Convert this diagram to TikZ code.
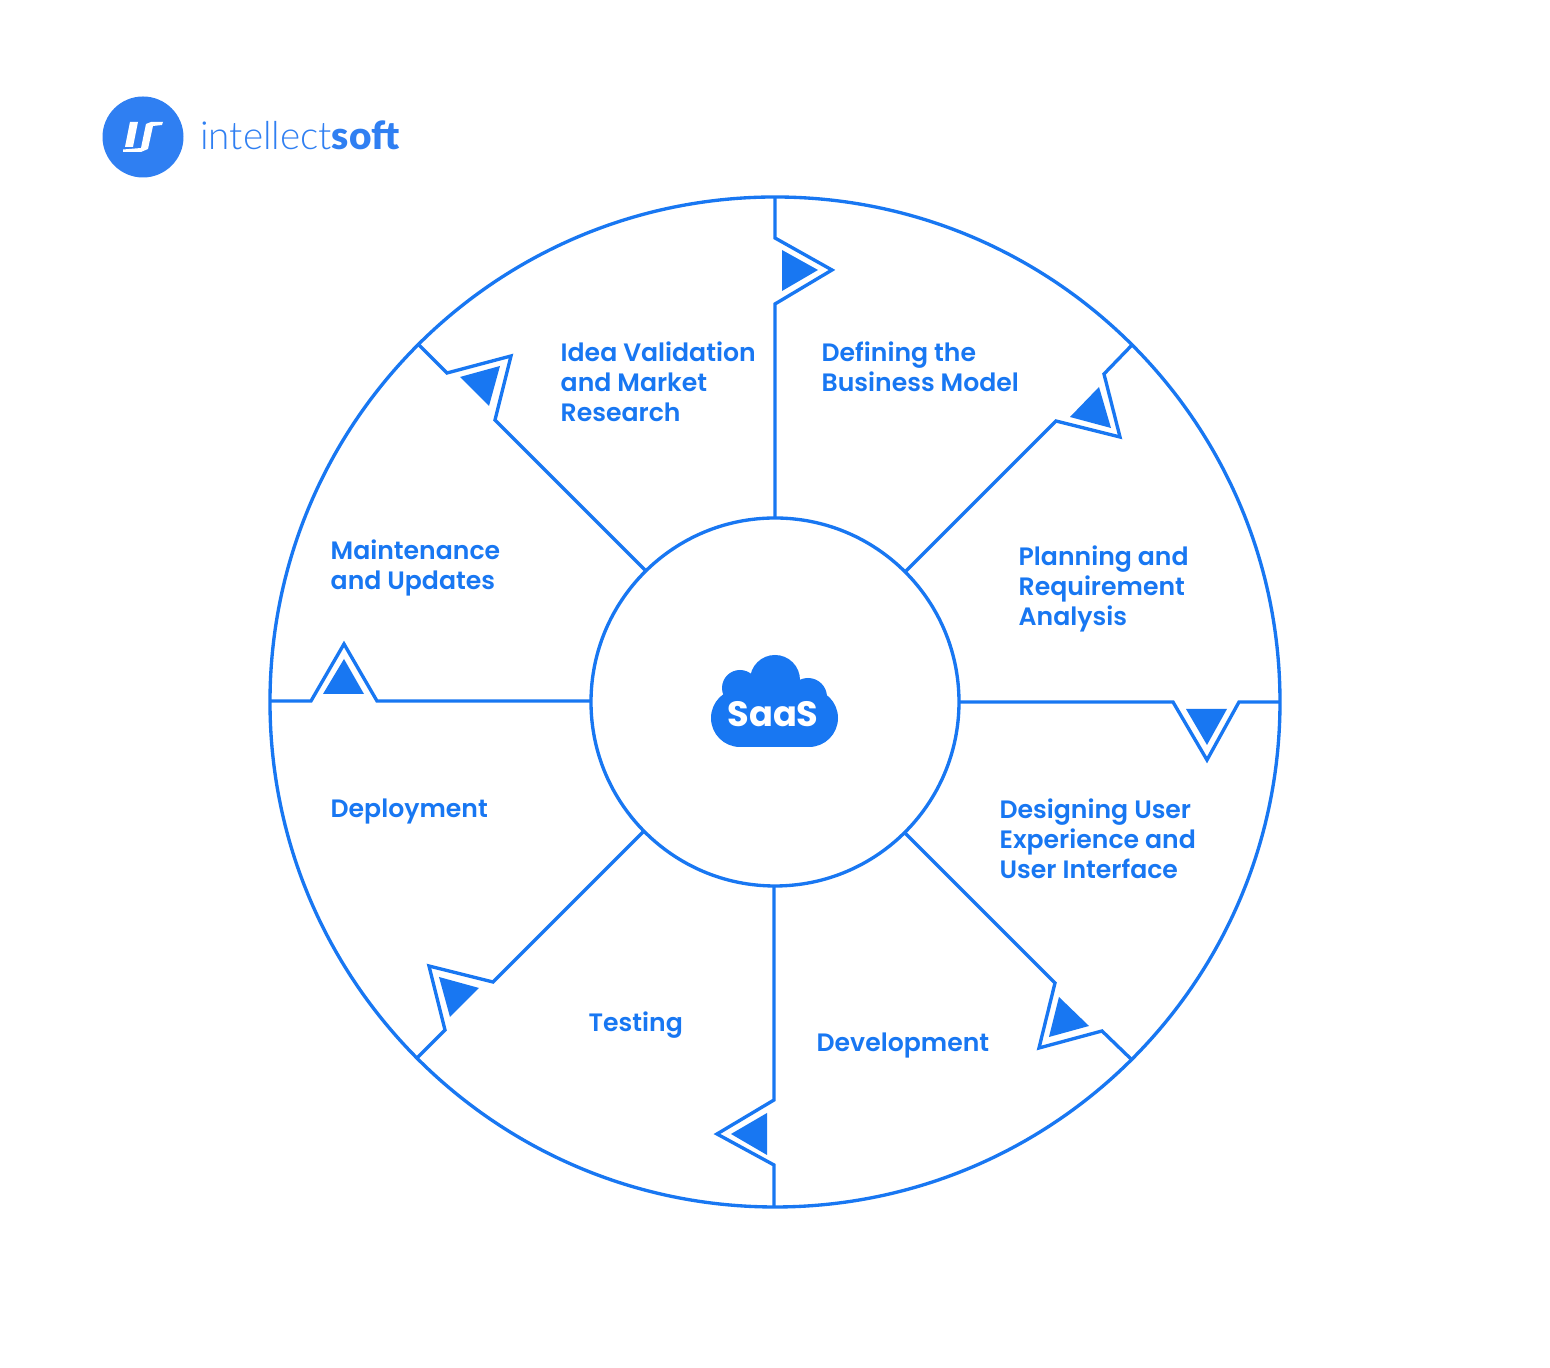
\documentclass[tikz,border=0pt]{standalone}
\usepackage{fontspec}
\usepackage{tikz}
\setmainfont{Poppins}[BoldFont={Poppins SemiBold}]
\newfontfamily\logolight{Lato Light}
\newfontfamily\logobold{Lato Black}
\newfontfamily\cloudfont{Poppins Bold}
\definecolor{sketchblue}{HTML}{1877F2}
\definecolor{logoblue}{HTML}{2F7FF2}
\tikzset{
  wheel/.style={line width=0.95pt, sketchblue, line join=miter},
  steplabel/.style={anchor=north west, inner sep=0pt, align=left, text=sketchblue,
    font=\fontsize{7.15pt}{8.5pt}\selectfont\bfseries},
}

\begin{document}
\begin{tikzpicture}[x=0.01cm, y=-0.01cm]
\useasboundingbox (0, 0) rectangle (1550, 1368);
\fill[white] (0, 0) rectangle (1550, 1368);

\draw[wheel] (775, 702) circle (505);
\draw[wheel] (775, 702) circle (184);

\draw[wheel] (775, 197) -- (775, 238) -- (832, 270) -- (775, 304) -- (775, 518);
\draw[wheel] (1132, 345) -- (1104, 374) -- (1120, 437) -- (1056, 421) -- (905, 572);
\draw[wheel] (1280, 702) -- (1239, 702) -- (1207, 760) -- (1173, 702) -- (959, 702);
\draw[wheel] (1131, 1059) -- (1102, 1031) -- (1039, 1048) -- (1055, 983) -- (904, 832);
\draw[wheel] (774, 1207) -- (774, 1165) -- (717, 1134) -- (774, 1100) -- (774, 886);
\draw[wheel] (417, 1058) -- (445, 1030) -- (429, 966) -- (493, 982) -- (644, 831);
\draw[wheel] (270, 701) -- (311, 701) -- (344, 644) -- (377, 701) -- (591, 701);
\draw[wheel] (418, 344) -- (447, 373) -- (511, 356) -- (495, 420) -- (645, 570);

\fill[sketchblue] (782, 250) -- (818, 270) -- (782, 291) -- cycle;
\fill[sketchblue] (1099, 387) -- (1111, 428) -- (1070, 417) -- cycle;
\fill[sketchblue] (1227, 709) -- (1207, 745) -- (1186, 709) -- cycle;
\fill[sketchblue] (1059, 997) -- (1089, 1026) -- (1049, 1037) -- cycle;
\fill[sketchblue] (767, 1155) -- (731, 1134) -- (767, 1113) -- cycle;
\fill[sketchblue] (450, 1017) -- (439, 977) -- (479, 988) -- cycle;
\fill[sketchblue] (323, 694) -- (344, 659) -- (364, 694) -- cycle;
\fill[sketchblue] (460, 377) -- (500, 366) -- (489, 406) -- cycle;

\node[steplabel] (idea) at (560, 341) {Idea Validation\\and Market\\Research};
\node[steplabel] (business) at (821, 341) {Defining the\\Business Model};
\node[steplabel] (planning) at (1018, 545) {Planning and\\Requirement\\Analysis};
\node[steplabel] (design) at (999, 798) {Designing User\\Experience and\\User Interface};
\node[steplabel] (development) at (816, 1032) {Development};
\node[steplabel] (testing) at (588, 1011) {Testing};
\node[steplabel] (deployment) at (330, 798) {Deployment};
\node[steplabel] (maintenance) at (330, 539) {Maintenance\\and Updates};

% cloud
\fill[sketchblue] (775, 680) circle (25);
\fill[sketchblue] (740, 688) circle (18);
\fill[sketchblue] (808, 697) circle (19);
\fill[sketchblue] (740, 718) circle (29);
\fill[sketchblue] (809, 718) circle (29);
\fill[sketchblue] (740, 690) rectangle (809, 747);
\node[inner sep=0pt, text=white, font=\fontsize{10pt}{12pt}\cloudfont] (saas) at (773, 714) {SaaS};

% logo
\fill[logoblue] (143, 137) circle (40.5);
\fill[white] (130, 122) -- (138, 122) -- (133, 147) -- (125, 147) -- cycle;
\fill[white] (163, 122) -- (151, 122) -- (146, 124) -- (141, 148) -- (123, 149.5) -- (123, 152) -- (141, 152) -- (148, 149) -- (153, 126) -- (162, 125) -- cycle;
\node[anchor=base west, inner sep=0pt, text=logoblue, font=\fontsize{11pt}{12pt}\selectfont] (logotext) at (199.5, 149.5) {{\logolight intellect}{\logobold soft}};

\end{tikzpicture}
\end{document}
